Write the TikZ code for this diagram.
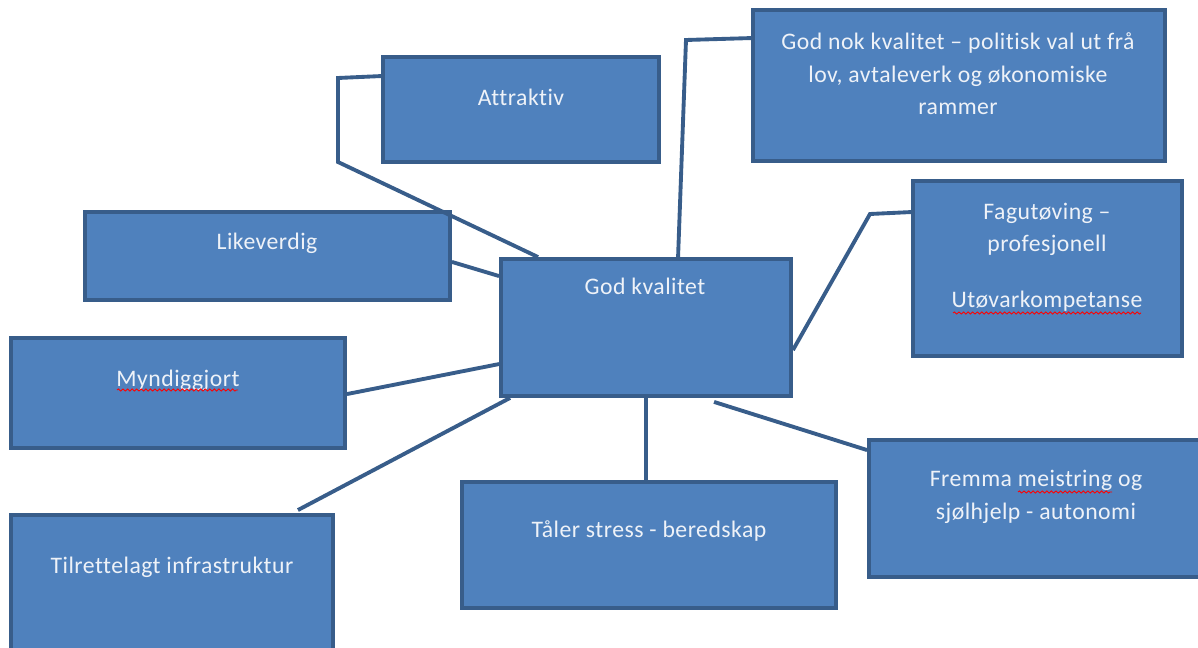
\documentclass[tikz,border=0pt]{standalone}
\usepackage{fontspec}
\setmainfont{Carlito}[LetterSpace=2, Ligatures={NoCommon}]
\usetikzlibrary{calc,fit,decorations.pathmorphing}
\definecolor{kvalfill}{HTML}{4F81BD}
\definecolor{kvalline}{HTML}{385D8A}
\definecolor{kvaltext}{HTML}{EEF2F8}
\tikzset{
  kvalbox/.style={draw=kvalline, fill=kvalfill, line width=2.2pt, inner sep=0pt},
  kvaltxt/.style={text=kvaltext, align=center, inner sep=0pt},
  kvallink/.style={draw=kvalline, line width=2.2pt},
  squig/.style={draw=red, line width=0.5pt, decorate,
    decoration={snake, amplitude=0.6pt, segment length=2.6pt}}
}
\begin{document}
\begin{tikzpicture}[
    x=0.02cm,
    y=-0.02cm,
    font=\fontsize{13.5}{18.5}\selectfont
]
\useasboundingbox (0,0) rectangle (1198,648);

% boxes
\node[kvalbox, fit={(383,57) (659,162)}] (attr) {};
\node[kvalbox, fit={(753,10) (1165,161)}] (godnok) {};
\node[kvalbox, fit={(85,212) (450,300)}] (likev) {};
\node[kvalbox, fit={(501,259) (791,396)}] (god) {};
\node[kvalbox, fit={(913,181) (1182,356)}] (fag) {};
\node[kvalbox, fit={(11,338) (345,448)}] (mynd) {};
\node[kvalbox, fit={(11,515) (333,670)}] (tilr) {};
\node[kvalbox, fit={(462,482) (836,608)}] (taler) {};
\node[kvalbox, fit={(869,440) (1215,577)}] (frem) {};

% texts
\node[kvaltxt] at (521,97) {Attraktiv};
\node[kvaltxt] at (958,74) {God nok kvalitet -- politisk val ut frå\\ lov, avtaleverk og økonomiske\\ rammer};
\node[kvaltxt] at (267,243) {Likeverdig};
\node[kvaltxt] at (645,286) {God kvalitet};
\node[kvaltxt] at (1047,257) {Fagutøving --\\ profesjonell\\[13pt] Utøvarkompetanse};
\node[kvaltxt] at (178,380) {Myndiggjort};
\node[kvaltxt] at (172,567) {Tilrettelagt infrastruktur};
\node[kvaltxt] at (649,531) {Tåler stress - beredskap};
\node[kvaltxt] at (1036,497) {Fremma meistring og\\ sjølhjelp - autonomi};

% spelling marks
\draw[squig] (117,390) -- (238,390);
\draw[squig] (953,313) -- (1141,313);
\draw[squig] (1018,492) -- (1112,492);

% connectors
\draw[kvallink] ($(attr.north west)+(0,21)$) -- (338,78) -- (338,162) -- ($(god.north west)+(39,0)$);
\draw[kvallink] ($(likev.south east)+(0,-40)$) -- ($(god.north west)+(0,19)$);
\draw[kvallink] ($(godnok.north west)+(0,30)$) -- (686,40) -- ($(god.north west)+(179,0)$);
\draw[kvallink] ($(fag.north west)+(0,33)$) -- (870,214) -- ($(god.north east)+(0,93)$);
\draw[kvallink] ($(mynd.north east)+(0,58)$) -- ($(god.north west)+(0,107)$);
\draw[kvallink] ($(tilr.north east)+(-37,-3)$) -- ($(god.south west)+(11,0)$);
\draw[kvallink] (god.south) -- (god.south |- taler.north);
\draw[kvallink] ($(god.south west)+(215,4)$) -- ($(frem.north west)+(0,12)$);
\end{tikzpicture}
\end{document}
